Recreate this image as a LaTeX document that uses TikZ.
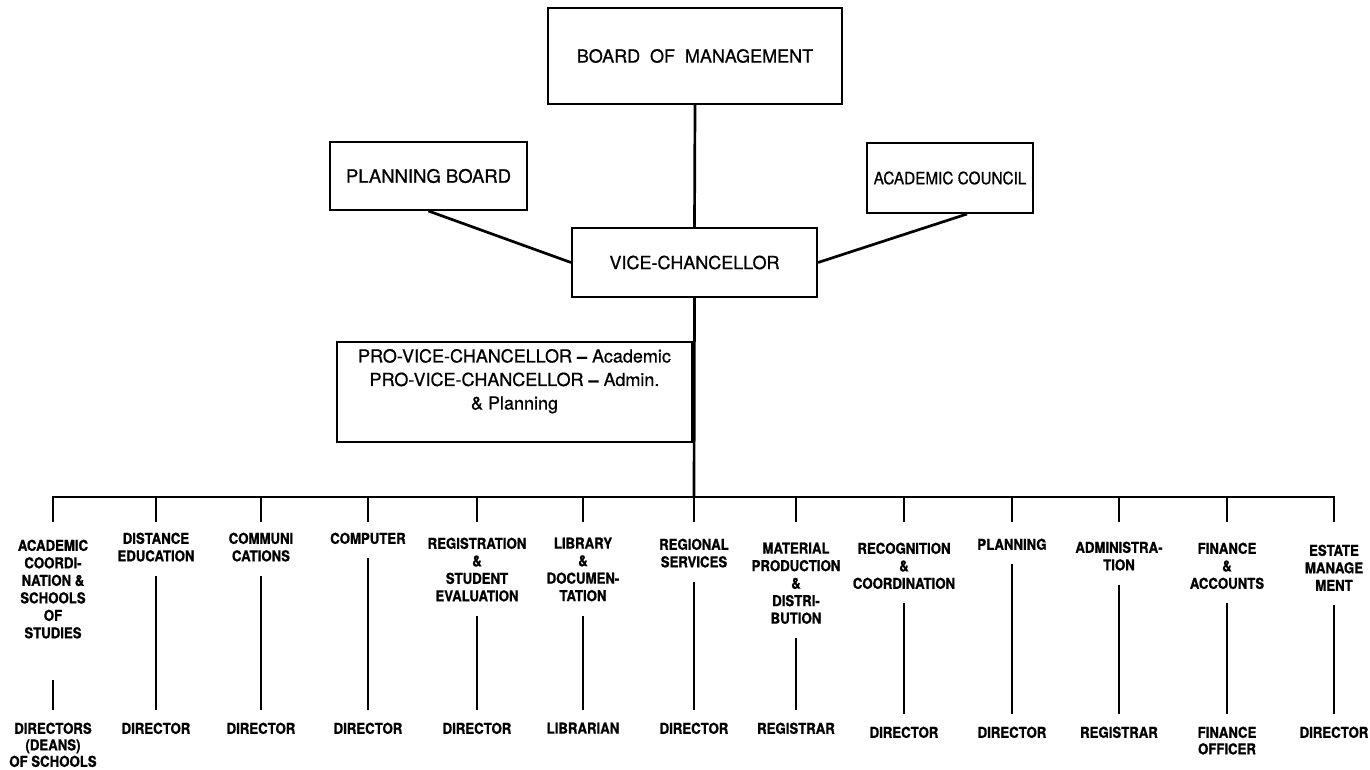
\documentclass[tikz,border=0pt]{standalone}
\usepackage{fontspec}
\setmainfont{TeX Gyre Heros}
\newfontfamily\boxfont[Ligatures=TeX,FakeBold=0.7]{TeX Gyre Heros}
\newfontfamily\narrowboxfont[Ligatures=TeX,FakeBold=0.7,FakeStretch=0.9]{TeX Gyre Heros}
\newfontfamily\deptfont[Ligatures=TeX,FakeStretch=0.88,BoldFeatures={FakeBold=0.9}]{TeX Gyre Heros}
\begin{document}
\begin{tikzpicture}[x=1pt,y=-1pt,
  box/.style={draw,line width=2pt,inner sep=0pt,align=center},
  link/.style={line width=2.7pt},
  dept/.style={anchor=north,inner sep=0pt,align=center,
    font=\deptfont\bfseries\fontsize{15}{17.5}\selectfont},
  role/.style={anchor=north,inner sep=0pt,align=center,
    font=\deptfont\bfseries\fontsize{15}{16.5}\selectfont},
  down/.style={link,shorten <=14pt,shorten >=13pt}]
\useasboundingbox (0,0) rectangle (1370,769);

% governing bodies
\node[box,minimum width=294pt,minimum height=96pt,font=\boxfont\fontsize{18}{22}\selectfont]
  (bom) at (695,56) {BOARD\hspace{0.55em}OF\hspace{0.55em}MANAGEMENT};
\node[box,minimum width=197pt,minimum height=68pt,font=\boxfont\fontsize{18.5}{22}\selectfont]
  (pb) at (428.5,176) {PLANNING BOARD};
\node[box,minimum width=166pt,minimum height=70pt,font=\narrowboxfont\fontsize{17}{20}\selectfont]
  (ac) at (950,178) {ACADEMIC COUNCIL};
\node[box,minimum width=245pt,minimum height=69pt,font=\boxfont\fontsize{18}{22}\selectfont]
  (vc) at (694.5,262.5) {VICE-CHANCELLOR};
\node[box,minimum width=355pt,minimum height=100pt,font=\boxfont\fontsize{18}{23.5}\selectfont]
  (pvc) at (514.5,392) {PRO-VICE-CHANCELLOR {\bfseries –} Academic\\
  PRO-VICE-CHANCELLOR {\bfseries –} Admin.\\ \& Planning\vphantom{g}\\[2pt]};

\draw[link] (bom.south) -- (vc.north);
\draw[link] (pb.south) -- (vc.west);
\draw[link] ([xshift=17pt]ac.south) -- (vc.east);

% distribution bar
\coordinate (tickend) at (0,522);
\foreach \i/\x in {1/53,2/156,3/261,4/368,5/477,6/583,7/694,8/796,
                   9/904,10/1012,11/1119,12/1227,13/1334}
  \coordinate (t\i) at (\x,497);
\draw[link] (vc.south) -- (t7);
\draw[link] (t1 |- tickend) -- (t1) -- (t13) -- (t13 |- tickend);
\foreach \i in {2,...,12}
  \draw[link] (t\i) -- (t\i |- tickend);

% departments
\node[dept] (d1)  at (53,539.5)  {ACADEMIC\\COORDI-\\NATION \&\\SCHOOLS\\OF\\STUDIES};
\node[dept] (d2)  at (156,532.5) {DISTANCE\\EDUCATION};
\node[dept] (d3)  at (261,532.5) {COMMUNI\\CATIONS};
\node[dept] (d4)  at (368,532.5) {COMPUTER};
\node[dept] (d5)  at (477,537.5) {REGISTRATION\\\&\\STUDENT\\EVALUATION};
\node[dept] (d6)  at (583,537.5) {LIBRARY\\\&\\DOCUMEN-\\TATION};
\node[dept] (d7)  at (694,538.5) {REGIONAL\\SERVICES};
\node[dept] (d8)  at (796,542.5) {MATERIAL\\PRODUCTION\\\&\\DISTRI-\\BUTION};
\node[dept] (d9)  at (904,542.5) {RECOGNITION\\\&\\COORDINATION};
\node[dept] (d10) at (1012,538.5) {PLANNING};
\node[dept] (d11) at (1119,541.5) {ADMINISTRA-\\TION};
\node[dept] (d12) at (1227,542.5) {FINANCE\\\&\\ACCOUNTS};
\node[dept] (d13) at (1334,544.5) {ESTATE\\MANAGE\\MENT};

% heads of departments
\node[role] (r1)  at (53,722.5)  {DIRECTORS\\(DEANS)\\OF SCHOOLS};
\node[role] (r2)  at (156,722.5) {DIRECTOR};
\node[role] (r3)  at (261,722.5) {DIRECTOR};
\node[role] (r4)  at (368,722.5) {DIRECTOR};
\node[role] (r5)  at (477,722.5) {DIRECTOR};
\node[role] (r6)  at (583,722.5) {LIBRARIAN};
\node[role] (r7)  at (694,722.5) {DIRECTOR};
\node[role] (r8)  at (796,722.5) {REGISTRAR};
\node[role] (r9)  at (904,726.5) {DIRECTOR};
\node[role] (r10) at (1012,726.5) {DIRECTOR};
\node[role] (r11) at (1119,726.5) {REGISTRAR};
\node[role] (r12) at (1227,726.5) {FINANCE\\OFFICER};
\node[role] (r13) at (1334,726.5) {DIRECTOR};

\draw[down,shorten <=41pt] (d1.south) -- (r1.north);
\foreach \i in {2,...,13}
  \draw[down] (d\i.south) -- (r\i.north);
\end{tikzpicture}
\end{document}
